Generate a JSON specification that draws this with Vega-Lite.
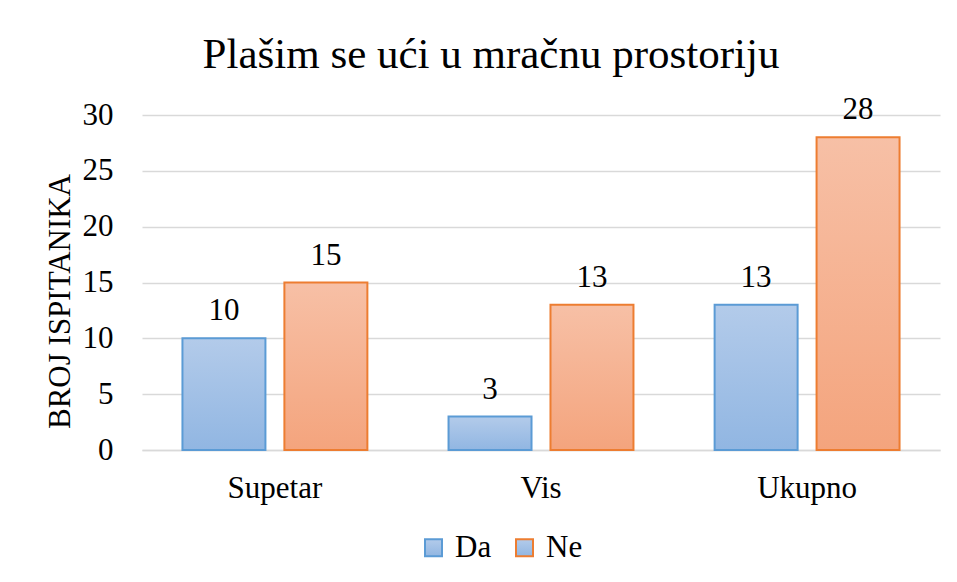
{
  "$schema": "https://vega.github.io/schema/vega-lite/v6.json",
  "autosize": "none",
  "width": 798,
  "height": 335,
  "padding": {"left": 142, "top": 115, "right": 17, "bottom": 132},
  "background": "white",
  "title": {
    "text": "Plašim se ući u mračnu prostoriju",
    "font": "Liberation Serif",
    "fontSize": 43,
    "fontWeight": "normal",
    "color": "#000000",
    "anchor": "middle",
    "dx": -50,
    "offset": 17
  },
  "data": {
    "values": [
      {"Group": "Supetar", "Series": "Da", "Value": 10},
      {"Group": "Supetar", "Series": "Ne", "Value": 15},
      {"Group": "Vis", "Series": "Da", "Value": 3},
      {"Group": "Vis", "Series": "Ne", "Value": 13},
      {"Group": "Ukupno", "Series": "Da", "Value": 13},
      {"Group": "Ukupno", "Series": "Ne", "Value": 28}
    ]
  },
  "encoding": {
    "x": {
      "field": "Group",
      "type": "nominal",
      "sort": ["Supetar", "Vis", "Ukupno"],
      "scale": {"paddingInner": 0.305, "paddingOuter": 0.152},
      "axis": {
        "title": null,
        "labelAngle": 0,
        "labelFont": "Liberation Serif",
        "labelFontSize": 31,
        "labelColor": "#000000",
        "labelPadding": 23,
        "ticks": false,
        "domainColor": "#d9d9d9",
        "domainWidth": 1.5,
        "grid": false
      }
    },
    "xOffset": {
      "field": "Series",
      "type": "nominal",
      "scale": {"domain": ["Da", "Ne"], "paddingInner": 0.186, "paddingOuter": 0}
    },
    "y": {
      "field": "Value",
      "type": "quantitative",
      "scale": {"domain": [0, 30], "nice": false},
      "axis": {
        "title": "BROJ ISPITANIKA",
        "titleFont": "Liberation Serif",
        "titleFontSize": 31,
        "titleFontWeight": "normal",
        "titleColor": "#000000",
        "titleAngle": 270,
        "titleAlign": "center",
        "titleBaseline": "middle",
        "titleX": -82,
        "titleY": 186,
        "values": [0, 5, 10, 15, 20, 25, 30],
        "labelFont": "Liberation Serif",
        "labelFontSize": 31,
        "labelColor": "#000000",
        "labelPadding": 29,
        "ticks": false,
        "domain": false,
        "grid": true,
        "gridColor": "#d9d9d9",
        "gridWidth": 1.5
      }
    }
  },
  "layer": [
    {
      "transform": [{"filter": "datum.Series === 'Da'"}],
      "mark": {
        "type": "bar",
        "strokeWidth": 2,
        "fill": {
          "gradient": "linear",
          "x1": 0, "y1": 0, "x2": 0, "y2": 1,
          "stops": [
            {"offset": 0, "color": "#b3cbea"},
            {"offset": 1, "color": "#91b6e2"}
          ]
        }
      },
      "encoding": {
        "stroke": {
          "field": "Series",
          "type": "nominal",
          "scale": {"domain": ["Da", "Ne"], "range": ["#5b9bd5", "#ed7d31"]},
          "legend": {
            "title": null,
            "orient": "none",
            "direction": "horizontal",
            "legendX": 276,
            "legendY": 417,
            "symbolType": "square",
            "symbolSize": 289,
            "symbolStrokeWidth": 2,
            "labelFont": "Liberation Serif",
            "labelFontSize": 31,
            "labelColor": "#000000",
            "labelOffset": 6,
            "columnPadding": 17,
            "encode": {
              "symbols": {
                "update": {
                  "fill": {"signal": "datum.value === 'Da' ? '#a5c2e7' : '#f6b497'"},
                  "opacity": {"value": 1}
                }
              }
            }
          }
        }
      }
    },
    {
      "transform": [{"filter": "datum.Series === 'Ne'"}],
      "mark": {
        "type": "bar",
        "strokeWidth": 2,
        "fill": {
          "gradient": "linear",
          "x1": 0, "y1": 0, "x2": 0, "y2": 1,
          "stops": [
            {"offset": 0, "color": "#f7c0a6"},
            {"offset": 1, "color": "#f4a47d"}
          ]
        }
      },
      "encoding": {
        "stroke": {"field": "Series", "type": "nominal"}
      }
    },
    {
      "mark": {
        "type": "text",
        "baseline": "alphabetic",
        "dy": -18,
        "font": "Liberation Serif",
        "fontSize": 31,
        "color": "#000000"
      },
      "encoding": {
        "text": {"field": "Value", "type": "quantitative"}
      }
    }
  ],
  "config": {
    "view": {"stroke": null}
  }
}
